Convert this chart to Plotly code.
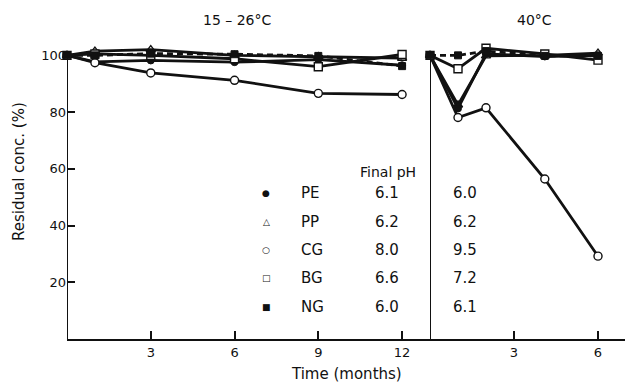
import plotly.graph_objects as go

# ---- data ----
series_names = ["PE", "PP", "CG", "BG", "NG"]
final_ph_room = ["6.1", "6.2", "8.0", "6.6", "6.0"]
final_ph_40 = ["6.0", "6.2", "9.5", "7.2", "6.1"]

t_room = [0, 1, 3, 6, 9, 12]
room = {
    "PE": [100, 97.7, 98.2, 97.6, 98.5, 96.5],
    "PP": [100, 101.5, 102.0, 100.0, 99.5, 99.0],
    "CG": [100, 97.4, 93.8, 91.2, 86.6, 86.2],
    "BG": [100, 100.5, 100.0, 98.8, 96.0, 100.3],
    "NG": [100, 100.0, 100.6, 100.4, 99.8, 96.2],
}

t_40 = [0, 1, 2, 4.1, 6]
hot = {
    "PE": [100, 81.3, 100.5, 99.6, 100.0],
    "PP": [100, 82.5, 99.8, 100.0, 100.8],
    "CG": [100, 78.1, 81.5, 56.4, 29.2],
    "BG": [100, 95.3, 102.5, 100.5, 98.3],
    "NG": [100, 100.0, 101.5, 99.8, 99.8],
}

y_ticks = [20, 40, 60, 80, 100]
x_ticks_room = [3, 6, 9, 12]
x_ticks_40 = [3, 6]

# ---- styles ----
INK = "#111111"
FONT = "DejaVu Sans"
marker_style = {
    "PE": dict(symbol="circle", color=INK, size=7, line=dict(color=INK, width=1)),
    "PP": dict(symbol="triangle-up-open", color=INK, size=8, line=dict(color=INK, width=1.4)),
    "CG": dict(symbol="circle", color="white", size=8, line=dict(color=INK, width=1.4)),
    "BG": dict(symbol="square", color="white", size=8, line=dict(color=INK, width=1.4)),
    "NG": dict(symbol="square", color=INK, size=7, line=dict(color=INK, width=1)),
}
line_dash = {"PE": "solid", "PP": "solid", "CG": "solid", "BG": "solid", "NG": "6px,4px"}
legend_symbol = {"PE": "●", "PP": "△", "CG": "○", "BG": "□", "NG": "■"}

fig = go.Figure()
for name in series_names:
    fig.add_trace(go.Scatter(
        x=t_room, y=room[name], xaxis="x", yaxis="y", mode="lines+markers",
        line=dict(color=INK, width=2.8, dash=line_dash[name]),
        marker=marker_style[name], cliponaxis=False, showlegend=False, name=name))
    fig.add_trace(go.Scatter(
        x=t_40, y=hot[name], xaxis="x2", yaxis="y2", mode="lines+markers",
        line=dict(color=INK, width=2.8, dash=line_dash[name]),
        marker=marker_style[name], cliponaxis=False, showlegend=False, name=name))

split = 363 / 558
axis_common = dict(
    showgrid=False, zeroline=False, showline=True, linecolor=INK, linewidth=2,
    ticks="inside", ticklen=8, tickwidth=1.5, tickcolor=INK,
    tickfont=dict(family=FONT, size=13, color=INK),
)
fig.update_layout(
    width=625, height=385,
    margin=dict(l=67, r=0, t=44, b=46),
    paper_bgcolor="white", plot_bgcolor="white",
    font=dict(family=FONT, color=INK),
    xaxis=dict(domain=[0, split], range=[0, 13], tickvals=x_ticks_room,
               anchor="y", **axis_common),
    xaxis2=dict(domain=[split, 1], range=[0, 195 / 28], tickvals=x_ticks_40,
                anchor="y2", **axis_common),
    yaxis=dict(range=[0, 104], tickvals=y_ticks, anchor="x",
               showgrid=False, zeroline=False, showline=False,
               ticks="inside", ticklen=8, tickwidth=1.5, tickcolor=INK,
               tickfont=dict(family=FONT, size=13, color=INK)),
    yaxis2=dict(range=[0, 104], anchor="x2", matches="y", showticklabels=False,
                showgrid=False, zeroline=False, showline=False, ticks=""),
)

# vertical axis lines (only up to 100)
fig.add_shape(type="line", xref="x", yref="y", x0=0, x1=0, y0=0, y1=100,
              line=dict(color=INK, width=2))
fig.add_shape(type="line", xref="x2", yref="y2", x0=0, x1=0, y0=0, y1=100,
              line=dict(color=INK, width=2))

def txt(text, x, y, size, xref="paper", yref="paper", xanchor="center", angle=0):
    return dict(text=text, xref=xref, yref=yref, x=x, y=y, xanchor=xanchor,
                yanchor="middle", textangle=angle, showarrow=False,
                font=dict(size=size, family=FONT, color=INK))

ann = [
    txt("15 – 26°C", 0.305, 1.081, 14),
    txt("40°C", 0.837, 1.081, 14),
    txt("Time (months)", 0.5, -0.119, 15),
    txt("Residual conc. (%)", -0.086, 0.566, 15, angle=-90),
    txt("Final pH", 11.5, 58.8, 14, xref="x", yref="y"),
]
row_y = [51.4, 41.2, 31.3, 21.5, 11.3]
for i, name in enumerate(series_names):
    ann.append(txt(legend_symbol[name], 7.14, row_y[i], 9, xref="x", yref="y"))
    ann.append(txt(name, 8.3, row_y[i], 15, xref="x", yref="y", xanchor="left"))
    ann.append(txt(final_ph_room[i], 11.46, row_y[i], 15, xref="x", yref="y"))
    ann.append(txt(final_ph_40[i], 1.25, row_y[i], 15, xref="x2", yref="y"))
fig.update_layout(annotations=ann)

fig.write_html("out.html", config={"displayModeBar": False},
               post_script="document.body.style.margin='0';")
